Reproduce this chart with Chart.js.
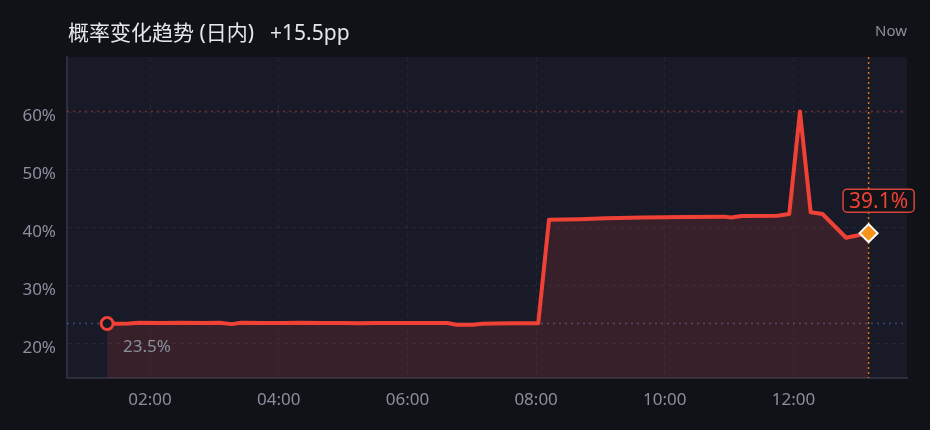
<!DOCTYPE html>
<html>
<head>
<meta charset="utf-8">
<script src="https://cdn.jsdelivr.net/npm/chart.js@4.4.0/dist/chart.umd.min.js"></script>
<style>
html,body{margin:0;padding:0;background:#111217;}
#wrap{position:relative;width:930px;height:430px;background:#111217;overflow:hidden;}
canvas{position:absolute;left:0;top:0;}
#title{position:absolute;left:68px;top:19px;font-family:"Noto Sans","Noto Sans CJK SC",sans-serif;font-size:21px;line-height:26px;color:#e6e7ea;white-space:nowrap;}
#title .chg{margin-left:16px;}
#now{position:absolute;right:23px;top:20px;font-family:"Noto Sans",sans-serif;font-size:15px;line-height:20px;color:#8b8f9c;}
</style>
</head>
<body>
<div id="wrap">
  <canvas id="c" width="930" height="430"></canvas>
  <div id="title">概率变化趋势 (日内)<span class="chg">+15.5pp</span></div>
  <div id="now">Now</div>
</div>
<script>
// ---- data ----
const times = [
  "01:20","01:30","01:40","01:50","02:10","02:30","02:50","03:05","03:16","03:25",
  "03:45","04:05","04:20","04:40","05:00","05:15","05:30","06:00","06:37","06:46",
  "07:01","07:10","07:20","07:40","08:02",
  "08:12","08:40","09:05","09:40","10:20","10:55","11:02","11:12","11:45","11:56",
  "12:06","12:16","12:27","12:49","13:10"
];
const values = [
  23.5,23.45,23.5,23.65,23.6,23.65,23.6,23.65,23.4,23.65,
  23.6,23.6,23.65,23.6,23.6,23.55,23.6,23.6,23.6,23.3,
  23.3,23.45,23.5,23.55,23.55,
  41.4,41.5,41.65,41.8,41.9,41.95,41.8,42.05,42.1,42.4,
  60.1,42.7,42.4,38.3,39.1
];
const xTickLabels = ["02:00","04:00","06:00","08:00","10:00","12:00"];
const yTickValues = [20,30,40,50,60];

// ---- helpers ----
const toMin = s => { const [h,m] = s.split(":").map(Number); return h*60+m; };
const fmt = v => { const h = Math.floor(v/60), m = Math.round(v%60); return String(h).padStart(2,"0")+":"+String(m).padStart(2,"0"); };
const points = times.map((t,i)=>({x:toMin(t), y:values[i]}));
const xTickVals = xTickLabels.map(toMin);
const startVal = values[0];
const endVal = values[values.length-1];
const maxVal = Math.max(...values);
const nowMin = toMin(times[times.length-1]);
const lastIdx = points.length-1;
const LINE = "#ef4136";

const bgPlugin = {
  id:"bg",
  beforeDraw(chart){
    const {ctx, chartArea:a} = chart;
    ctx.save();
    ctx.fillStyle = "#181b27";
    ctx.fillRect(a.left, a.top, a.right-a.left, a.bottom-a.top);
    ctx.restore();
  }
};

const refPlugin = {
  id:"refs",
  beforeDatasetsDraw(chart){
    const {ctx, chartArea:a, scales:{x,y}} = chart;
    ctx.save();
    ctx.lineWidth = 1.5;
    ctx.setLineDash([2,4]);
    let yy = y.getPixelForValue(startVal);
    ctx.strokeStyle = "rgba(85,105,165,0.6)";
    ctx.beginPath(); ctx.moveTo(a.left, yy); ctx.lineTo(a.right, yy); ctx.stroke();
    yy = y.getPixelForValue(maxVal);
    ctx.strokeStyle = "rgba(185,60,60,0.55)";
    ctx.beginPath(); ctx.moveTo(a.left, yy); ctx.lineTo(a.right, yy); ctx.stroke();
    const xx = x.getPixelForValue(nowMin);
    ctx.setLineDash([2,3]);
    ctx.strokeStyle = "#d9770f";
    ctx.beginPath(); ctx.moveTo(xx, a.top); ctx.lineTo(xx, a.bottom); ctx.stroke();
    ctx.restore();
  }
};

const labelPlugin = {
  id:"labels",
  afterDatasetsDraw(chart){
    const {ctx, scales:{x,y}} = chart;
    ctx.save();
    const sx = x.getPixelForValue(points[0].x), sy = y.getPixelForValue(startVal);
    ctx.font = '17px "Noto Sans"';
    ctx.fillStyle = "#8a8f9e";
    ctx.textAlign = "left";
    ctx.textBaseline = "middle";
    ctx.fillText(startVal.toFixed(1)+"%", sx+16, sy+24);
    const ex = x.getPixelForValue(nowMin), ey = y.getPixelForValue(endVal);
    const txt = endVal.toFixed(1)+"%";
    ctx.font = '21px "Noto Sans"';
    const w = ctx.measureText(txt).width + 12;
    const h = 23;
    const cx = ex + 10, top = ey - 44;
    ctx.beginPath();
    ctx.roundRect(cx - w/2, top, w, h, 4);
    ctx.fillStyle = "rgba(17,18,24,0.85)";
    ctx.fill();
    ctx.lineWidth = 1.5;
    ctx.strokeStyle = "#d9443a";
    ctx.stroke();
    ctx.fillStyle = LINE;
    ctx.textAlign = "center";
    ctx.fillText(txt, cx, top + h/2 + 1);
    ctx.restore();
  }
};

new Chart(document.getElementById("c"), {
  type:"line",
  data:{
    datasets:[{
      data: points,
      borderColor: LINE,
      borderWidth: 4,
      borderJoinStyle: "round",
      borderCapStyle: "round",
      tension: 0,
      fill: "start",
      backgroundColor: "rgba(239,68,58,0.15)",
      pointRadius: c => c.dataIndex===0 ? 6 : (c.dataIndex===lastIdx ? 9 : 0),
      pointStyle: c => c.dataIndex===lastIdx ? "rectRot" : "circle",
      pointBackgroundColor: c => c.dataIndex===lastIdx ? "#f7931a" : "#171a24",
      pointBorderColor: c => c.dataIndex===lastIdx ? "#ffffff" : LINE,
      pointBorderWidth: c => c.dataIndex===lastIdx ? 2 : 3
    }]
  },
  options:{
    responsive:false,
    animation:false,
    events:[],
    layout:{padding:{top:57,right:23,left:0,bottom:0}},
    plugins:{legend:{display:false}, tooltip:{enabled:false}, title:{display:false}},
    scales:{
      x:{
        type:"linear",
        min:42.6, max:825.8,
        afterBuildTicks: s => { s.ticks = xTickVals.map(v=>({value:v})); },
        afterFit: s => { s.height = 52; },
        ticks:{callback: v => fmt(v), color:"#8a8f9e", font:{family:"Noto Sans", size:17}, padding:12, maxRotation:0, autoSkip:false},
        grid:{color:"rgba(255,255,255,0.055)", drawTicks:false, lineWidth:1},
        border:{display:true, color:"#2b2e3c", width:2, dash:[4,4]}
      },
      y:{
        min:14.1, max:69.5,
        afterBuildTicks: s => { s.ticks = yTickValues.map(v=>({value:v})); },
        afterFit: s => { s.width = 67; },
        ticks:{callback: v => v+"%", color:"#8a8f9e", font:{family:"Noto Sans", size:17}, padding:11, labelOffset:4},
        grid:{color:"rgba(255,255,255,0.055)", drawTicks:false, lineWidth:1},
        border:{display:true, color:"#2b2e3c", width:2, dash:[4,4]}
      }
    }
  },
  plugins:[bgPlugin, refPlugin, labelPlugin]
});
</script>
</body>
</html>
